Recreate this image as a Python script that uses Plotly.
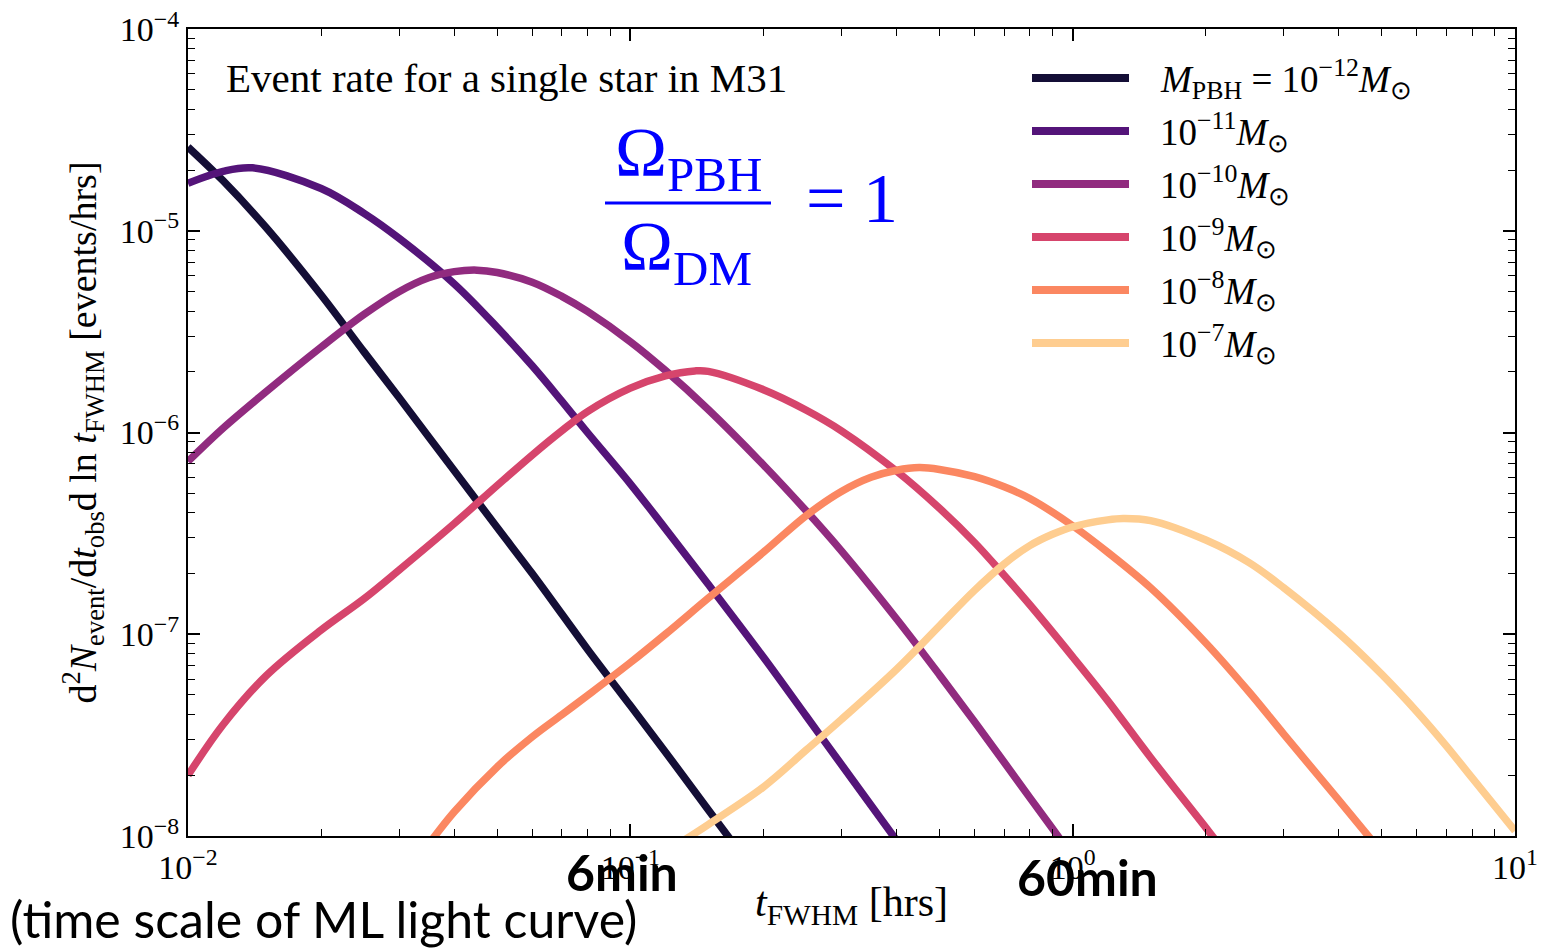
import plotly.graph_objects as go

# ---------------- data ----------------
t_12 = [0.01, 0.012, 0.015, 0.02, 0.025, 0.03, 0.04, 0.05, 0.06, 0.07, 0.08, 0.1, 0.12, 0.15, 0.18]
r_12 = [2.60e-5, 1.77e-5, 1.04e-5, 4.80e-6, 2.51e-6, 1.49e-6, 6.46e-7, 3.38e-7, 2.00e-7, 1.26e-7,
        8.43e-8, 4.43e-8, 2.61e-8, 1.35e-8, 7.9e-9]

t_11 = [0.01, 0.012, 0.014, 0.02, 0.025, 0.03, 0.04, 0.05, 0.06, 0.07, 0.08, 0.1, 0.12,
        0.15, 0.2, 0.25, 0.3, 0.4]
r_11 = [1.72e-5, 1.97e-5, 2.05e-5, 1.62e-5, 1.22e-5, 9.18e-6, 5.45e-6, 3.32e-6, 2.14e-6,
        1.43e-6, 1.00e-6, 5.57e-7, 3.34e-7, 1.77e-7, 7.69e-8, 3.92e-8, 2.26e-8, 9.5e-9]

t_10 = [0.01, 0.012, 0.015, 0.02, 0.025, 0.03, 0.035, 0.04, 0.045, 0.05, 0.06, 0.07, 0.08, 0.1,
        0.12, 0.15, 0.2, 0.25, 0.3, 0.4, 0.5, 0.6, 0.7, 0.8, 0.9, 1.0]
r_10 = [7.19e-7, 1.05e-6, 1.59e-6, 2.65e-6, 3.85e-6, 4.99e-6, 5.85e-6, 6.27e-6, 6.38e-6, 6.21e-6,
        5.56e-6, 4.73e-6, 3.98e-6, 2.82e-6, 2.03e-6, 1.30e-6, 6.90e-7, 4.08e-7, 2.59e-7, 1.19e-7,
        6.29e-8, 3.68e-8, 2.32e-8, 1.55e-8, 1.09e-8, 7.9e-9]

t_9 = [0.01, 0.012, 0.015, 0.02, 0.025, 0.03, 0.04, 0.05, 0.06, 0.07, 0.08, 0.1, 0.12, 0.14, 0.15,
       0.2, 0.25, 0.3, 0.4, 0.5, 0.6, 0.7, 0.8, 1.0, 1.2, 1.5, 2.0, 2.2]
r_9 = [2.00e-8, 3.56e-8, 6.21e-8, 1.05e-7, 1.50e-7, 2.08e-7, 3.54e-7, 5.46e-7, 7.73e-7, 1.02e-6,
       1.27e-6, 1.66e-6, 1.91e-6, 2.02e-6, 2.01e-6, 1.63e-6, 1.29e-6, 1.02e-6, 6.43e-7, 4.21e-7,
       2.85e-7, 1.96e-7, 1.40e-7, 7.73e-8, 4.69e-8, 2.45e-8, 1.10e-8, 8.4e-9]

t_8 = [0.035, 0.04, 0.05, 0.06, 0.07, 0.08, 0.1, 0.12, 0.15, 0.2, 0.25, 0.3, 0.35, 0.4, 0.45, 0.5,
       0.6, 0.7, 0.8, 1.0, 1.2, 1.5, 2.0, 2.5, 3.0, 4.0, 5.0]
r_8 = [9.1e-9, 1.32e-8, 2.20e-8, 3.10e-8, 3.99e-8, 4.97e-8, 7.23e-8, 1.00e-7, 1.51e-7, 2.55e-7,
       3.88e-7, 5.10e-7, 6.00e-7, 6.50e-7, 6.70e-7, 6.56e-7, 6.04e-7, 5.38e-7, 4.71e-7, 3.45e-7,
       2.55e-7, 1.70e-7, 9.05e-8, 5.20e-8, 3.20e-8, 1.50e-8, 8.3e-9]

t_7 = [0.13, 0.15, 0.2, 0.25, 0.3, 0.4, 0.5, 0.6, 0.7, 0.8, 0.9, 1.0, 1.2, 1.3, 1.5, 2.0, 2.5, 3.0,
       4.0, 5.0, 6.0, 7.0, 8.0, 10.0]
r_7 = [9.3e-9, 1.14e-8, 1.75e-8, 2.67e-8, 3.78e-8, 6.71e-8, 1.10e-7, 1.65e-7, 2.23e-7, 2.75e-7,
       3.13e-7, 3.41e-7, 3.69e-7, 3.75e-7, 3.66e-7, 2.93e-7, 2.27e-7, 1.70e-7, 1.01e-7, 6.32e-8,
       4.13e-8, 2.79e-8, 1.94e-8, 1.06e-8]

series_t = [t_12, t_11, t_10, t_9, t_8, t_7]
series_r = [r_12, r_11, r_10, r_9, r_8, r_7]
series_names = [
    "<i>M</i><sub>PBH</sub> = 10<sup>−12</sup><i>M</i><sub>⊙</sub>",
    "10<sup>−11</sup><i>M</i><sub>⊙</sub>",
    "10<sup>−10</sup><i>M</i><sub>⊙</sub>",
    "10<sup>−9</sup><i>M</i><sub>⊙</sub>",
    "10<sup>−8</sup><i>M</i><sub>⊙</sub>",
    "10<sup>−7</sup><i>M</i><sub>⊙</sub>",
]
colors = ["#140e36", "#541479", "#912b7f", "#d6456c", "#fb8761", "#fecd90"]

x_tickvals = [0.01, 0.1, 1, 10]
x_ticktext = ["10<sup>−2</sup>", "10<sup>−1</sup>", "10<sup>0</sup>", "10<sup>1</sup>"]
y_tickvals = [1e-8, 1e-7, 1e-6, 1e-5, 1e-4]
y_ticktext = ["10<sup>−8</sup>", "10<sup>−7</sup>", "10<sup>−6</sup>", "10<sup>−5</sup>", "10<sup>−4</sup>"]

SERIF = "Liberation Serif"
SANS = "Lato"

fig = go.Figure()
for t, r, name, c in zip(series_t, series_r, series_names, colors):
    fig.add_trace(go.Scatter(x=t, y=r, mode="lines", name=name,
                             line=dict(color=c, width=7.5, shape="spline", smoothing=1.0),
                             showlegend=False))

def minor_vals(lo, hi):
    vals = []
    for e in range(lo, hi):
        for k in range(2, 10):
            vals.append(k * 10.0 ** e)
    return vals

axis_common = dict(type="log", showgrid=False, zeroline=False, showline=True,
                   linecolor="black", linewidth=2, mirror="allticks", ticks="inside",
                   ticklen=12, tickwidth=1.5, tickcolor="black",
                   tickfont=dict(family=SERIF, size=34, color="black"))

fig.update_xaxes(**axis_common, range=[-2, 1], tickmode="array",
                 tickvals=x_tickvals, ticktext=x_ticktext,
                 minor=dict(ticks="inside", ticklen=7, tickwidth=1, tickcolor="black",
                            tickmode="array", tickvals=minor_vals(-2, 1), showgrid=False),
                 title=dict(text="<i>t</i><sub>FWHM</sub> [hrs]",
                            font=dict(family=SERIF, size=42, color="black"), standoff=2))
fig.update_yaxes(**axis_common, range=[-8, -4], tickmode="array",
                 tickvals=y_tickvals, ticktext=y_ticktext,
                 minor=dict(ticks="inside", ticklen=7, tickwidth=1, tickcolor="black",
                            tickmode="array", tickvals=minor_vals(-8, -4), showgrid=False),
                 title=dict(text="d<sup>2</sup><i>N</i><sub>event</sub>/d<i>t</i><sub>obs</sub>d ln <i>t</i><sub>FWHM</sub> [events/hrs]",
                            font=dict(family=SERIF, size=38, color="black"), standoff=12))

# ---- custom legend (long line swatches like the reference) ----
px_w, px_h = 1327.0, 807.0
def px2paper_x(px):
    return (px - 188) / px_w
def px2paper_y(py):
    return (836 - py) / px_h

legend_rows_py = [78, 131, 184, 237, 290, 343]
shapes = []
annotations = []
for py, name, c in zip(legend_rows_py, series_names, colors):
    shapes.append(dict(type="line", xref="paper", yref="paper",
                       x0=px2paper_x(1032), x1=px2paper_x(1129),
                       y0=px2paper_y(py), y1=px2paper_y(py),
                       line=dict(color=c, width=8)))
    annotations.append(dict(xref="paper", yref="paper", x=px2paper_x(1158), y=px2paper_y(py + 1),
                            xanchor="left", yanchor="middle", showarrow=False, text=name,
                            font=dict(family=SERIF, size=37, color="black")))

# title text inside
annotations.append(dict(xref="paper", yref="paper", x=px2paper_x(224), y=px2paper_y(78),
                        xanchor="left", yanchor="middle", showarrow=False,
                        text="Event rate for a single star in M31",
                        font=dict(family=SERIF, size=41, color="black")))

# Omega fraction
blue = "#0000ff"
annotations.append(dict(xref="paper", yref="paper", x=px2paper_x(688), y=px2paper_y(158),
                        xanchor="center", yanchor="middle", showarrow=False,
                        text="Ω<sub>PBH</sub>", font=dict(family=SERIF, size=70, color=blue)))
annotations.append(dict(xref="paper", yref="paper", x=px2paper_x(686), y=px2paper_y(252),
                        xanchor="center", yanchor="middle", showarrow=False,
                        text="Ω<sub>DM</sub>", font=dict(family=SERIF, size=70, color=blue)))
shapes.append(dict(type="line", xref="paper", yref="paper",
                   x0=px2paper_x(605), x1=px2paper_x(771),
                   y0=px2paper_y(203), y1=px2paper_y(203),
                   line=dict(color=blue, width=3)))
annotations.append(dict(xref="paper", yref="paper", x=px2paper_x(852), y=px2paper_y(198),
                        xanchor="center", yanchor="middle", showarrow=False,
                        text="= 1", font=dict(family=SERIF, size=70, color=blue)))

# sans-serif notes below the axis
annotations.append(dict(xref="paper", yref="paper", x=px2paper_x(622), y=px2paper_y(872),
                        xanchor="center", yanchor="middle", showarrow=False,
                        text="<b>6min</b>", font=dict(family=SANS, size=50, color="black")))
annotations.append(dict(xref="paper", yref="paper", x=px2paper_x(1087), y=px2paper_y(877),
                        xanchor="center", yanchor="middle", showarrow=False,
                        text="<b>60min</b>", font=dict(family=SANS, size=50, color="black")))
annotations.append(dict(xref="paper", yref="paper", x=px2paper_x(8), y=px2paper_y(919),
                        xanchor="left", yanchor="middle", showarrow=False,
                        text="(time scale of ML light curve)",
                        font=dict(family=SANS, size=50, color="black")))

fig.update_layout(width=1541, height=949,
                  margin=dict(l=188, r=26, t=29, b=113, autoexpand=False),
                  paper_bgcolor="white", plot_bgcolor="white",
                  shapes=shapes, annotations=annotations, showlegend=False)

fig.write_html("out.html")
